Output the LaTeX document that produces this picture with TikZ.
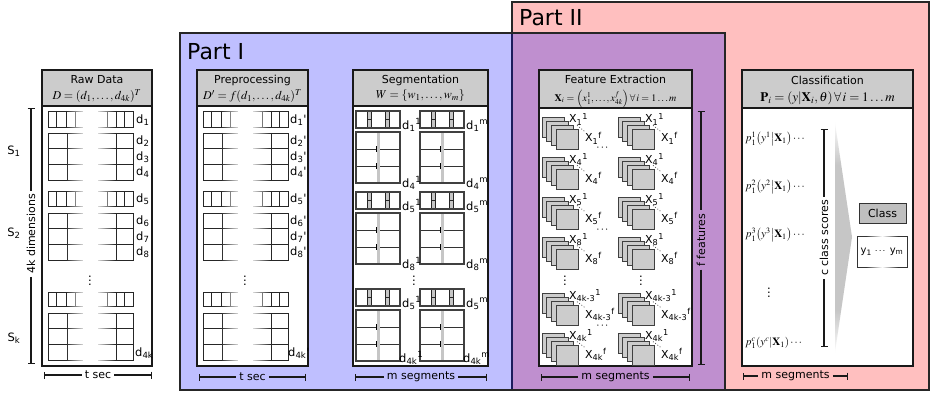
\documentclass[tikz,border=0pt]{standalone}
\usepackage{amsmath}
\usepackage{mathptmx}
\usepackage{fontspec}
\setmainfont{DejaVu Sans}[Ligatures=TeXOff]
\usetikzlibrary{fadings,arrows.meta}

\tikzset{
  partbox/.style={draw=black!85, line width=1.1pt},
  mainbox/.style={draw=black!90, line width=1.8pt, fill=white},
  headbox/.style={draw=black!90, line width=1.8pt, fill=gray!40},
  gridln/.style={draw=black!85, line width=0.9pt},
  dimln/.style={draw=black!90, line width=1.3pt},
  barl/.style={{Bar[width=7pt]}-},
  barr/.style={-{Bar[width=7pt]}},
  ttl/.style={font=\fontsize{11}{13}\selectfont, inner sep=0pt},
  fml/.style={font=\fontsize{12}{14}\selectfont, inner sep=0pt},
  lbl/.style={font=\fontsize{11.5}{13}\selectfont, inner sep=0pt},
  dimlbl/.style={font=\fontsize{11}{13}\selectfont, inner sep=3pt},
  partlbl/.style={font=\fontsize{22}{26}\selectfont, inner sep=0pt, anchor=base west},
  fsq/.style={draw=black!75, line width=0.9pt, fill=gray!40},
  segframe/.style={draw=black!75, line width=1.8pt},
  xlbl/.style={font=\fontsize{11}{13}\selectfont, inner sep=0pt, anchor=base west},
  dotln/.style={draw=black!70, line width=0.8pt, dotted},
  plbl/.style={font=\fontsize{11}{13}\selectfont, inner sep=0pt, anchor=west},
}

\newcommand\rawgrid{%
  \foreach \ya/\yb in {111/127,191/206,292/306}{%
    \draw[gridln] (41,\ya) -- (6,\ya) -- (6,\yb) -- (41,\yb);
    \draw[gridln] (14,\ya) -- (14,\yb) (24,\ya) -- (24,\yb) (33,\ya) -- (33,\yb);
    \draw[gridln] (56,\ya) -- (91,\ya) -- (91,\yb) -- (56,\yb);
    \draw[gridln] (65,\ya) -- (65,\yb) (74,\ya) -- (74,\yb) (82,\ya) -- (82,\yb);
  }
  \foreach \ya/\yb in {133/180,213/260,313/360}{%
    \pgfmathsetmacro\yc{\ya+(\yb-\ya)/3}%
    \pgfmathsetmacro\yd{\ya+2*(\yb-\ya)/3}%
    \draw[gridln] (41,\ya) -- (6,\ya) -- (6,\yb) -- (41,\yb);
    \draw[gridln] (6,\yc) -- (41,\yc) (6,\yd) -- (41,\yd) (25,\ya) -- (25,\yb);
    \draw[gridln] (56,\ya) -- (91,\ya) -- (91,\yb) -- (56,\yb);
    \draw[gridln] (56,\yc) -- (91,\yc) (56,\yd) -- (91,\yd) (74,\ya) -- (74,\yb);
  }
  \fill[white, path fading=west] (24,108) rectangle (45,363);
  \fill[white, path fading=east] (52,108) rectangle (73,363);
}

\newcommand\segthin[2]{%
  \begin{scope}[shift={(#1,#2)}]
    \fill[white] (0,0) rectangle (44,17);
    \fill[gray!45] (11,0) rectangle (15,17) (29,0) rectangle (33,17);
    \draw[black!85, line width=0.8pt] (11,0) -- (11,17) (15,0) -- (15,17) (29,0) -- (29,17) (33,0) -- (33,17)
      (11,8.5) -- (15,8.5) (29,8.5) -- (33,8.5);
    \draw[segframe] (0,0) rectangle (44,17);
  \end{scope}}

\newcommand\segbig[3]{%
  \begin{scope}[shift={(#1,#2)}]
    \fill[white] (0,0) rectangle (44,#3);
    \draw[black!80, line width=0.8pt] (0,#3/3) -- (44,#3/3) (0,2*#3/3) -- (44,2*#3/3);
    \fill[gray!45] (20.5,0) rectangle (23.5,#3);
    \draw[black, line width=0.8pt] (20.5,#3/3-3) -- (20.5,#3/3+3) (20.5,2*#3/3-3) -- (20.5,2*#3/3+3);
    \draw[segframe] (0,0) rectangle (44,#3);
  \end{scope}}

\newcommand\fstack[2]{%
  \begin{scope}[shift={(#1,#2)}]
    \foreach \i in {0,1,2,3} \draw[fsq] (4.7*\i,4*\i) rectangle ++(22,20);
  \end{scope}}

\newcommand\flabels[4]{%
  \node[xlbl] (#4a) at (#1+27,#2+6) {X\textsubscript{#3}\textsuperscript{1}};
  \node[xlbl] (#4b) at (#1+43,#2+25) {X\textsubscript{#3}\textsuperscript{f}};
  \draw[dotln] ([xshift=8pt]#4a.south west) -- (#4b.north west);}

\begin{document}
\begin{tikzpicture}[x=1pt,y=-1pt]
\useasboundingbox (0,0) rectangle (931,393);

% Part boxes
\draw[partbox, fill=red!25] (512,2) rectangle (929,390);
\draw[partbox, fill=blue, fill opacity=0.25] (180,33) rectangle (725,390);
\node[partlbl] (part1) at (187,60) {Part I};
\node[partlbl] (part2) at (519,26) {Part II};

% main boxes
\draw[mainbox] (42,70) rectangle (152,366);
\draw[headbox] (42,70) rectangle (152,106);
\draw[mainbox] (197,70) rectangle (308,366);
\draw[headbox] (197,70) rectangle (308,106);
\draw[mainbox] (353,70) rectangle (488,366);
\draw[headbox] (353,70) rectangle (488,106);
\draw[mainbox] (539,70) rectangle (692,366);
\draw[headbox] (539,70) rectangle (692,108);
\draw[mainbox] (742,70) rectangle (913,366);
\draw[headbox] (742,70) rectangle (913,108);

% headers
\node[ttl] (rawt) at (97,80) {Raw Data};
\node[fml] (rawf) at (97,96) {$D=(d_1,\ldots,d_{4k})^T$};
\node[ttl] (pret) at (252.5,80) {Preprocessing};
\node[fml] (pref) at (252.5,96) {$D'=f(d_1,\ldots,d_{4k})^T$};
\node[ttl] (segt) at (420.5,80) {Segmentation};
\node[fml] (segf) at (420.5,96) {$W=\{w_1,\ldots,w_m\}$};
\node[ttl] (feat) at (615.5,79) {Feature Extraction};
\node[fml, font=\fontsize{10}{12}\selectfont] (feaf) at (615.5,99) {$\mathbf{X}_i=\left(x_1^1,\ldots,x_{4k}^f\right)\forall\, i=1\ldots m$};
\node[ttl] (clat) at (827.5,80) {Classification};
\node[fml, font=\fontsize{13}{15}\selectfont] (claf) at (827.5,98) {$\mathbf{P}_i=(y|\mathbf{X}_i,\theta)\,\forall\, i=1\ldots m$};

% raw data grid
\begin{scope}[shift={(42,0)}] \rawgrid \end{scope}
\node[lbl, anchor=west] (r1) at (136,120) {d\textsubscript{1}};
\node[lbl, anchor=west] (r2) at (136,141) {d\textsubscript{2}};
\node[lbl, anchor=west] (r3) at (136,157) {d\textsubscript{3}};
\node[lbl, anchor=west] (r4) at (136,172) {d\textsubscript{4}};
\node[lbl, anchor=west] (r5) at (136,199) {d\textsubscript{5}};
\node[lbl, anchor=west] (r6) at (136,221) {d\textsubscript{6}};
\node[lbl, anchor=west] (r7) at (136,237) {d\textsubscript{7}};
\node[lbl, anchor=west] (r8) at (136,252) {d\textsubscript{8}};
\node[lbl, anchor=west] (r4k) at (135,353) {d\textsubscript{4k}};
\node[lbl] (rdots) at (90,278) {$\vdots$};

% preprocessing grid
\begin{scope}[shift={(197,0)}] \rawgrid \end{scope}
\node[lbl, anchor=west] (q1) at (290,120) {d\textsubscript{1}'};
\node[lbl, anchor=west] (q2) at (290,141) {d\textsubscript{2}'};
\node[lbl, anchor=west] (q3) at (290,157) {d\textsubscript{3}'};
\node[lbl, anchor=west] (q4) at (290,172) {d\textsubscript{4}'};
\node[lbl, anchor=west] (q5) at (290,199) {d\textsubscript{5}'};
\node[lbl, anchor=west] (q6) at (290,221) {d\textsubscript{6}'};
\node[lbl, anchor=west] (q7) at (290,237) {d\textsubscript{7}'};
\node[lbl, anchor=west] (q8) at (290,252) {d\textsubscript{8}'};
\node[lbl, anchor=west] (q4k) at (288,353) {d\textsubscript{4k}'};
\node[lbl] (qdots) at (245,278) {$\vdots$};

% segmentation
\foreach \xx in {356,420}{
  \segthin{\xx}{111} \segbig{\xx}{132}{51}
  \segthin{\xx}{192} \segbig{\xx}{213}{51}
  \segthin{\xx}{289} \segbig{\xx}{310}{51}
}
\node[lbl, anchor=base west] (s11) at (402,129) {d\textsubscript{1}\textsuperscript{1}};
\node[lbl, anchor=base west] (s41) at (402,187) {d\textsubscript{4}\textsuperscript{1}};
\node[lbl, anchor=base west] (s51) at (402,210) {d\textsubscript{5}\textsuperscript{1}};
\node[lbl, anchor=base west] (s81) at (402,268) {d\textsubscript{8}\textsuperscript{1}};
\node[lbl, anchor=base west] (s5b1) at (402,307) {d\textsubscript{5}\textsuperscript{1}};
\node[lbl, anchor=base west] (s4k1) at (399,362) {d\textsubscript{4k}\textsuperscript{1}};
\node[lbl, anchor=base west] (s1m) at (466,129) {d\textsubscript{1}\textsuperscript{m}};
\node[lbl, anchor=base west] (s4m) at (466,187) {d\textsubscript{4}\textsuperscript{m}};
\node[lbl, anchor=base west] (s5m) at (466,210) {d\textsubscript{5}\textsuperscript{m}};
\node[lbl, anchor=base west] (s8m) at (466,268) {d\textsubscript{8}\textsuperscript{m}};
\node[lbl, anchor=base west] (s5bm) at (466,307) {d\textsubscript{5}\textsuperscript{m}};
\node[lbl, anchor=base west] (s4km) at (463,362) {d\textsubscript{4k}\textsuperscript{m}};
\node[lbl] (sdots) at (414,278) {$\vdots$};

% feature extraction
\foreach \xx in {542,618}{
  \foreach \yy in {117,157,197,237,293,333}{
    \fstack{\xx}{\yy}
  }
}
\flabels{542}{117}{1}{fa1}
\flabels{542}{157}{4}{fa4}
\flabels{542}{197}{5}{fa5}
\flabels{542}{237}{8}{fa8}
\flabels{542}{293}{4k-3}{fak3}
\flabels{542}{333}{4k}{fak}
\flabels{618}{117}{1}{fb1}
\flabels{618}{157}{4}{fb4}
\flabels{618}{197}{5}{fb5}
\flabels{618}{237}{8}{fb8}
\flabels{618}{293}{4k-3}{fbk3}
\flabels{618}{333}{4k}{fbk}
\node[lbl] (fh1) at (603,148) {$\cdots$};
\node[lbl] (fh2) at (603,230) {$\cdots$};
\node[lbl] (fh3) at (603,326) {$\cdots$};
\node[lbl] (fv1) at (565,278) {$\vdots$};
\node[lbl] (fv2) at (641,278) {$\vdots$};

% classification
\node[plbl] (p1) at (745,139) {$p_1^1\!\left(y^1\middle|\mathbf{X}_1\right)\cdots$};
\node[plbl] (p2) at (745,187) {$p_1^2\!\left(y^2\middle|\mathbf{X}_1\right)\cdots$};
\node[plbl] (p3) at (745,235) {$p_1^3\!\left(y^3\middle|\mathbf{X}_1\right)\cdots$};
\node[plbl] (pc) at (745,343) {$p_1^c\!\left(y^c\middle|\mathbf{X}_1\right)\cdots$};
\node[lbl] (pdots) at (769,290) {$\vdots$};
\fill[gray!45] (835,123) -- (852,237) -- (835,352) -- cycle;
\fill[white, path fading=south] (832,120) rectangle (855,165);
\fill[white, path fading=north] (832,310) rectangle (855,355);
\node[draw=black!80, line width=1pt, fill=gray!50, minimum width=47pt, minimum height=20pt, inner sep=0pt,
  font=\fontsize{11}{13}\selectfont] (cls) at (882.5,213) {Class};
\draw[black!80, line width=1pt] (857,236) rectangle (907,267);
\fill[white, path fading=west] (866,233) rectangle (882,270);
\fill[white, path fading=east] (882,233) rectangle (898,270);
\node[font=\fontsize{10}{12}\selectfont, inner sep=0pt] (ys) at (882,251.5) {y\textsubscript{1} $\cdots$ y\textsubscript{m}};

% dimension lines
\coordinate (dk1) at (31,108); \coordinate (dk2) at (31,364);
\node[dimlbl, rotate=90] (dimk) at (31,234) {4k dimensions};
\draw[dimln, barl] (dk1) -- (dimk.east);
\draw[dimln, barr] (dimk.west) -- (dk2);
\node[lbl] (S1) at (14,151) {S\textsubscript{1}};
\node[lbl] (S2) at (14,233) {S\textsubscript{2}};
\node[lbl] (Sk) at (14,338) {S\textsubscript{k}};

\coordinate (df1) at (701,111); \coordinate (df2) at (701,365);
\node[dimlbl, rotate=90] (dimf) at (701,240) {f features};
\draw[dimln, barl] (df1) -- (dimf.east);
\draw[dimln, barr] (dimf.west) -- (df2);

\coordinate (dc1) at (824,129); \coordinate (dc2) at (824,347);
\node[dimlbl, rotate=90] (dimc) at (824,238) {c class scores};
\draw[dimln, barl] (dc1) -- (dimc.east);
\draw[dimln, barr] (dimc.west) -- (dc2);

\coordinate (t1a) at (44,375); \coordinate (t1b) at (152,375);
\node[dimlbl] (t1) at (98,375) {t sec};
\draw[dimln, barl] (t1a) -- (t1.west);
\draw[dimln, barr] (t1.east) -- (t1b);

\coordinate (t2a) at (199,377); \coordinate (t2b) at (306,377);
\node[dimlbl] (t2) at (252.5,377) {t sec};
\draw[dimln, barl] (t2a) -- (t2.west);
\draw[dimln, barr] (t2.east) -- (t2b);

\coordinate (m1a) at (355,377); \coordinate (m1b) at (487,377);
\node[dimlbl] (m1) at (421,377) {m segments};
\draw[dimln, barl] (m1a) -- (m1.west);
\draw[dimln, barr] (m1.east) -- (m1b);

\coordinate (m2a) at (541,377); \coordinate (m2b) at (690,377);
\node[dimlbl] (m2) at (615.5,377) {m segments};
\draw[dimln, barl] (m2a) -- (m2.west);
\draw[dimln, barr] (m2.east) -- (m2b);

\coordinate (m3a) at (743,376); \coordinate (m3b) at (848,376);
\node[dimlbl] (m3) at (795.5,376) {m segments};
\draw[dimln, barl] (m3a) -- (m3.west);
\draw[dimln, barr] (m3.east) -- (m3b);
\end{tikzpicture}
\end{document}
